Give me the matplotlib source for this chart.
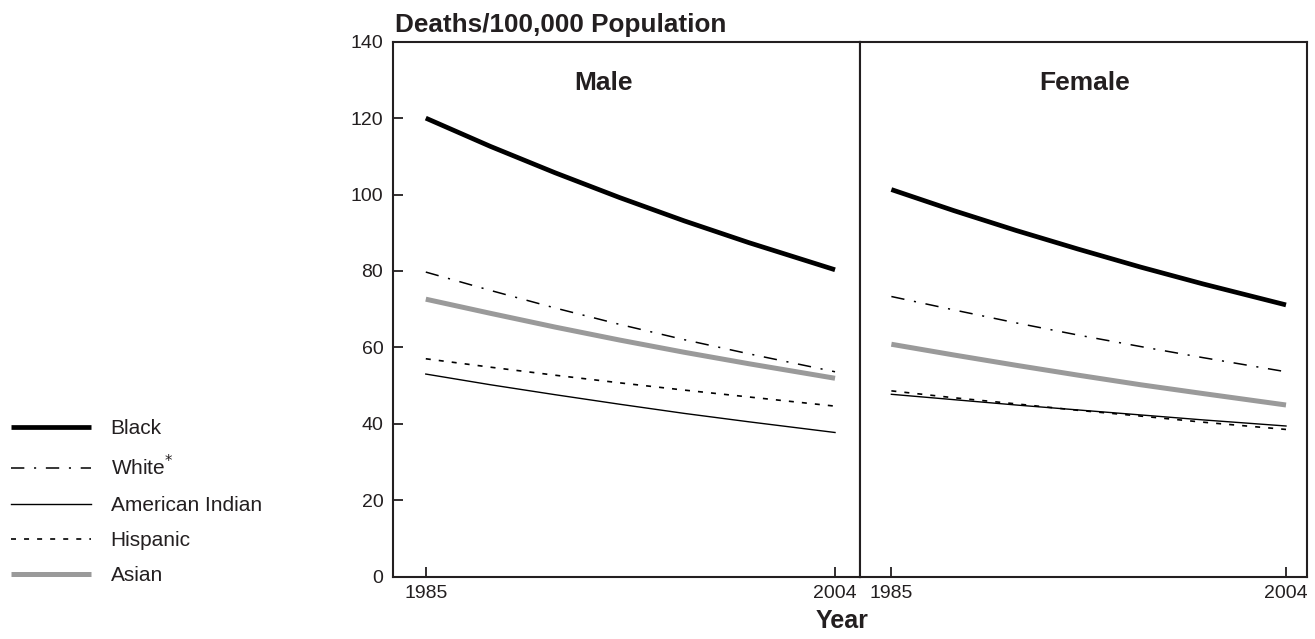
import matplotlib
matplotlib.use("Agg")
import matplotlib.pyplot as plt

plt.rcParams["font.family"] = ["Liberation Sans", "DejaVu Sans"]
plt.rcParams["lines.scale_dashes"] = False

# values (deaths per 100,000)
years = [1985, 1988, 1991, 1994, 1997, 2000, 2004]

male_black = [120.0, 112.6, 105.7, 99.2, 93.1, 87.4, 80.3]
male_white = [79.7, 74.9, 70.3, 66.0, 62.0, 58.3, 53.6]
male_amind = [53.0, 50.2, 47.6, 45.1, 42.7, 40.5, 37.7]
male_hisp = [57.0, 54.8, 52.7, 50.7, 48.8, 47.0, 44.6]
male_asian = [72.6, 68.9, 65.3, 61.9, 58.7, 55.7, 51.9]

female_black = [101.3, 95.8, 90.6, 85.7, 81.0, 76.6, 71.1]
female_white = [73.3, 69.8, 66.4, 63.2, 60.2, 57.3, 53.6]
female_amind = [47.7, 46.3, 44.9, 43.6, 42.3, 41.0, 39.4]
female_hisp = [48.6, 46.8, 45.2, 43.5, 42.0, 40.4, 38.5]
female_asian = [60.8, 58.0, 55.3, 52.7, 50.2, 47.9, 44.9]

labels = ["Black", "White$^{*}$", "American Indian", "Hispanic", "Asian"]

txt = "#231f20"
styles = [
    dict(color="black", lw=3.4, ls="-", solid_capstyle="butt"),
    dict(color="black", lw=1.1, ls=(0, (9.6, 7, 1.5, 7))),
    dict(color="black", lw=1.0, ls="-"),
    dict(color="black", lw=1.2, ls=(0, (3.6, 5.8))),
    dict(color="#9a9a9a", lw=3.6, ls="-", solid_capstyle="butt"),
]

fig = plt.figure(figsize=(13.15, 6.39), dpi=100)
ax1 = fig.add_axes([0.2989, 0.0978, 0.3551, 0.8369])
ax2 = fig.add_axes([0.6540, 0.0978, 0.3399, 0.8369])

male = [male_black, male_white, male_amind, male_hisp, male_asian]
female = [female_black, female_white, female_amind, female_hisp, female_asian]

handles = []
for vals, st, lab in zip(male, styles, labels):
    h, = ax1.plot(years, vals, label=lab, **st)
    handles.append(h)
for vals, st in zip(female, styles):
    ax2.plot(years, vals, **st)

ax1.set_xlim(1983.48, 2005.16)
ax2.set_xlim(1983.49, 2005.01)
for ax in (ax1, ax2):
    ax.set_ylim(0, 140)
    ax.set_xticks([1985, 2004])
    for s in ax.spines.values():
        s.set_linewidth(1.5)
        s.set_color(txt)
    ax.tick_params(axis="x", direction="in", length=7, width=1.3,
                   labelsize=14, labelcolor=txt, color=txt, pad=6)

ax1.set_yticks(range(0, 141, 20))
ax1.tick_params(axis="y", direction="in", length=7, width=1.3,
                labelsize=14, labelcolor=txt, color=txt, pad=7)
ax2.set_yticks([])

# panel titles and axis labels
fig.text(603 / 1315, 0.859, "Male", fontsize=19, fontweight="bold",
         color=txt, ha="center", va="baseline")
fig.text(1085 / 1315, 0.859, "Female", fontsize=19, fontweight="bold",
         color=txt, ha="center", va="baseline")
fig.text(0.3004, 0.950, "Deaths/100,000 Population", fontsize=18.8,
         fontweight="bold", color=txt, ha="left", va="baseline")
fig.text(842 / 1315, 0.028, "Year", fontsize=18, fontweight="bold",
         color=txt, ha="center", va="center")

fig.legend(handles=handles, loc="upper left", bbox_to_anchor=(0.0084, 0.344),
           frameon=False, fontsize=15, handlelength=3.85, handletextpad=0.93,
           labelspacing=0.78, borderpad=0, borderaxespad=0, labelcolor=txt)

fig.savefig("out.png", dpi=100)
